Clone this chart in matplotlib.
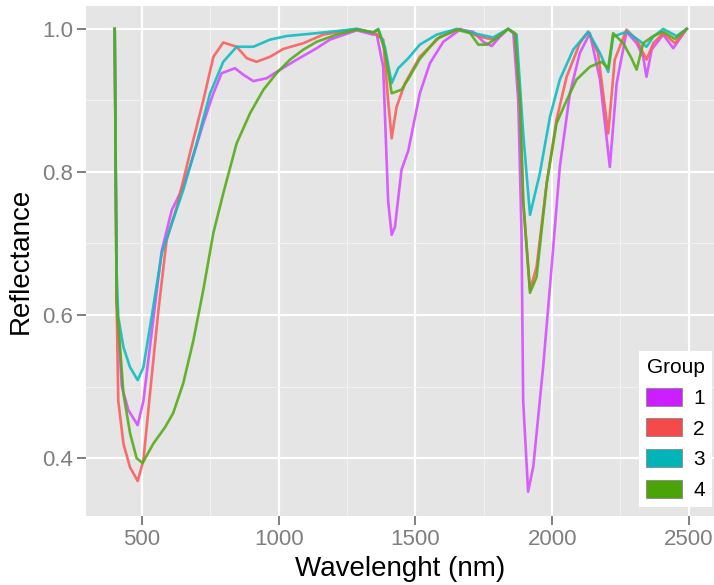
import matplotlib
matplotlib.use("Agg")
import matplotlib.pyplot as plt
from matplotlib.patches import Patch

plt.rcParams['font.family'] = ['Liberation Sans', 'DejaVu Sans']

# Group 1 (magenta)
wl1 = [400, 407, 426, 450, 484, 505, 535, 572, 609, 639, 675, 724, 761, 791, 840, 870, 907, 956, 1005, 1066, 1139, 1187, 1285, 1345, 1358, 1382, 1400, 1413, 1425, 1449, 1474, 1516, 1553, 1602, 1663, 1711, 1748, 1779, 1809, 1839, 1858, 1876, 1888, 1894, 1912, 1931, 1967, 1998, 2028, 2065, 2101, 2138, 2175, 2211, 2236, 2272, 2309, 2333, 2345, 2364, 2406, 2443, 2492]
r1 = [1.0, 0.62, 0.50, 0.467, 0.446, 0.48, 0.575, 0.69, 0.747, 0.77, 0.807, 0.868, 0.91, 0.938, 0.945, 0.936, 0.927, 0.931, 0.943, 0.957, 0.973, 0.985, 0.998, 0.992, 0.993, 0.947, 0.76, 0.712, 0.723, 0.803, 0.83, 0.91, 0.952, 0.982, 0.999, 0.996, 0.982, 0.976, 0.989, 1.0, 0.994, 0.90, 0.714, 0.48, 0.353, 0.388, 0.527, 0.667, 0.807, 0.91, 0.966, 0.994, 0.929, 0.807, 0.924, 0.996, 0.98, 0.961, 0.933, 0.971, 0.992, 0.973, 1.0]

# Group 2 (red)
wl2 = [400, 407, 413, 432, 456, 484, 505, 529, 560, 590, 627, 675, 724, 761, 797, 846, 883, 919, 968, 1017, 1090, 1163, 1285, 1345, 1382, 1400, 1413, 1431, 1462, 1516, 1590, 1663, 1736, 1784, 1839, 1864, 1882, 1894, 1919, 1943, 1980, 2016, 2053, 2101, 2132, 2168, 2205, 2229, 2272, 2309, 2345, 2370, 2406, 2449, 2492]
r2 = [1.0, 0.62, 0.48, 0.42, 0.387, 0.368, 0.397, 0.49, 0.607, 0.705, 0.751, 0.826, 0.90, 0.961, 0.981, 0.975, 0.959, 0.954, 0.961, 0.972, 0.98, 0.992, 1.0, 0.995, 0.985, 0.90, 0.847, 0.891, 0.924, 0.961, 0.989, 1.0, 0.989, 0.985, 1.0, 0.994, 0.90, 0.76, 0.635, 0.667, 0.784, 0.873, 0.933, 0.98, 0.996, 0.966, 0.854, 0.957, 0.999, 0.985, 0.957, 0.98, 0.994, 0.98, 1.0]

# Group 3 (teal)
wl3 = [400, 407, 413, 432, 456, 484, 505, 535, 572, 609, 651, 700, 749, 797, 846, 907, 968, 1029, 1139, 1285, 1345, 1364, 1388, 1413, 1437, 1474, 1516, 1578, 1651, 1736, 1784, 1839, 1870, 1894, 1919, 1955, 1992, 2028, 2077, 2132, 2175, 2205, 2223, 2272, 2321, 2345, 2370, 2406, 2455, 2492]
r3 = [1.0, 0.66, 0.597, 0.555, 0.527, 0.509, 0.527, 0.597, 0.686, 0.728, 0.775, 0.84, 0.91, 0.954, 0.975, 0.975, 0.985, 0.99, 0.994, 1.0, 0.995, 1.0, 0.975, 0.924, 0.945, 0.959, 0.978, 0.992, 1.0, 0.992, 0.988, 1.0, 0.992, 0.854, 0.74, 0.798, 0.877, 0.929, 0.971, 0.996, 0.966, 0.94, 0.989, 0.996, 0.983, 0.975, 0.989, 1.0, 0.99, 1.0]

# Group 4 (green)
wl4 = [400, 407, 432, 456, 480, 502, 541, 584, 614, 651, 688, 724, 761, 797, 846, 895, 944, 992, 1041, 1090, 1139, 1212, 1285, 1345, 1364, 1388, 1413, 1449, 1474, 1516, 1578, 1651, 1700, 1730, 1761, 1797, 1839, 1864, 1882, 1894, 1919, 1943, 1980, 2016, 2053, 2089, 2138, 2181, 2205, 2223, 2260, 2290, 2309, 2333, 2370, 2406, 2449, 2492]
r4 = [1.0, 0.62, 0.49, 0.435, 0.40, 0.393, 0.42, 0.443, 0.463, 0.505, 0.565, 0.635, 0.715, 0.77, 0.84, 0.882, 0.915, 0.938, 0.957, 0.971, 0.982, 0.992, 0.999, 0.995, 0.999, 0.97, 0.91, 0.915, 0.93, 0.958, 0.986, 0.999, 0.994, 0.978, 0.978, 0.987, 1.0, 0.993, 0.90, 0.76, 0.631, 0.653, 0.784, 0.868, 0.90, 0.929, 0.947, 0.954, 0.945, 0.994, 0.98, 0.959, 0.943, 0.98, 0.99, 0.996, 0.986, 1.0]

groups = ['1', '2', '3', '4']
line_colors = ['#D64FFF', '#F8605E', '#10BCC2', '#55AC18']
key_colors = ['#CC1FFF', '#F54A4A', '#00B4B8', '#4AA408']

x_ticks = [500, 1000, 1500, 2000, 2500]
y_ticks = [0.4, 0.6, 0.8, 1.0]

fig = plt.figure(figsize=(7.14, 5.85), dpi=100)
ax = fig.add_axes([86/714, (585-516)/585, (714-86)/714, (516-6)/585])
ax.set_facecolor('#E5E5E5')

for wl, r, c in zip([wl1, wl2, wl3, wl4], [r1, r2, r3, r4], line_colors):
    ax.plot(wl, r, color=c, lw=1.9, alpha=0.9, solid_joinstyle='round', zorder=3)

ax.set_xlim(295, 2592)
ax.set_ylim(0.319, 1.032)
ax.set_xticks(x_ticks)
ax.set_xticklabels([str(t) for t in x_ticks])
ax.set_yticks(y_ticks)
ax.set_yticklabels(['0.4', '0.6', '0.8', '1.0'])
ax.set_xticks([750, 1250, 1750, 2250], minor=True)
ax.set_yticks([0.5, 0.7, 0.9], minor=True)
ax.grid(which='major', color='white', lw=1.6, zorder=1)
ax.grid(which='minor', color='#F2F2F2', lw=0.8, zorder=1)
ax.set_axisbelow(True)
for s in ax.spines.values():
    s.set_visible(False)
ax.tick_params(which='major', length=6.5, width=1.4, color='#7F7F7F',
               labelcolor='#7F7F7F', labelsize=16, pad=3)
ax.tick_params(which='minor', length=0)

ax.set_xlabel('Wavelenght (nm)', fontsize=20, color='black', labelpad=4)
ax.set_ylabel('Reflectance', fontsize=20, color='black', labelpad=6)

handles = [Patch(facecolor=c, edgecolor='#888888', lw=0.6, label=g)
           for c, g in zip(key_colors, groups)]
leg = ax.legend(handles=handles, title='Group', loc='lower right',
                bbox_to_anchor=(1.0 - 2/628, 9/510), fontsize=15, title_fontsize=15,
                frameon=True, fancybox=False, framealpha=1, edgecolor='white',
                handlelength=1.7, handleheight=0.95, handletextpad=0.55,
                labelspacing=0.5, borderpad=0.35, borderaxespad=0)
leg.get_frame().set_linewidth(0)
leg.set_zorder(5)

fig.savefig('out.png', dpi=100)
